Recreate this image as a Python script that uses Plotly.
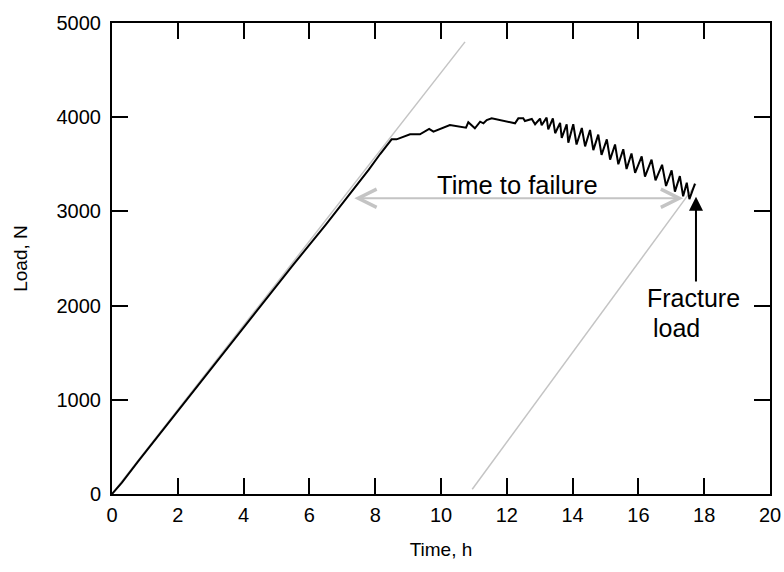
import plotly.graph_objects as go

# Measured load curve (time in h, load in N)
time_h = [0, 0.3, 0.8, 1.5, 2.5, 3.5, 4.5, 5.5, 6.5, 7.3, 7.8, 8.15, 8.40, 8.50, 8.65, 9.06, 9.36,
          9.64, 9.77, 10.27, 10.76, 10.83, 11.03, 11.19, 11.29, 11.39, 11.54, 12.25, 12.35,
          12.50, 12.55, 12.76, 12.86, 13.01, 13.06, 13.21, 13.26, 13.40, 13.47, 13.62, 13.67,
          13.82, 13.87, 14.02, 14.12, 14.28, 14.38, 14.53, 14.63, 14.78, 14.88, 15.04, 15.14,
          15.29, 15.39, 15.54, 15.64, 15.79, 15.90, 16.10, 16.20, 16.40, 16.52, 16.72, 16.84,
          17.01, 17.11, 17.26, 17.36, 17.47, 17.55, 17.72]
load_n = [0, 120, 350, 660, 1100, 1540, 1990, 2430, 2860, 3210, 3440, 3609, 3730, 3765, 3765, 3819, 3819,
          3875, 3846, 3917, 3889, 3946, 3882, 3952, 3935, 3970, 3988, 3935, 3988,
          3988, 3960, 3981, 3925, 3985, 3915, 3995, 3870, 3988, 3830, 3940, 3780,
          3925, 3730, 3925, 3710, 3885, 3690, 3865, 3650, 3815, 3600, 3765, 3550,
          3710, 3500, 3660, 3450, 3615, 3410, 3585, 3370, 3550, 3330, 3495, 3270,
          3435, 3210, 3375, 3160, 3305, 3130, 3295]

# Gray construction lines
slope_x = [0, 10.73]
slope_y = [0, 4800]
offset_x = [10.95, 17.75]
offset_y = [50, 3290]

# Annotation anchors
ttf_start, ttf_end, ttf_load = 7.32, 17.36, 3139
frac_x, frac_tip, frac_tail = 17.75, 3156, 2240

x_ticks = [0, 2, 4, 6, 8, 10, 12, 14, 16, 18, 20]
y_ticks = [0, 1000, 2000, 3000, 4000, 5000]

FONT = "Liberation Sans, Arial, sans-serif"
GRAY = "#c4c4c4"

fig = go.Figure()
fig.add_trace(go.Scatter(x=slope_x, y=slope_y, mode="lines",
                         line=dict(color=GRAY, width=1.5), showlegend=False, hoverinfo="skip"))
fig.add_trace(go.Scatter(x=offset_x, y=offset_y, mode="lines",
                         line=dict(color=GRAY, width=1.5), showlegend=False, hoverinfo="skip"))
fig.add_trace(go.Scatter(x=time_h, y=load_n, mode="lines",
                         line=dict(color="black", width=2), showlegend=False))

# Time to failure double arrow
fig.add_annotation(x=ttf_end, y=ttf_load, ax=ttf_start, ay=ttf_load,
                   xref="x", yref="y", axref="x", ayref="y", text="",
                   showarrow=True, arrowside="end+start", arrowhead=5, startarrowhead=5,
                   arrowsize=1.8, startarrowsize=1.8, arrowwidth=2, arrowcolor=GRAY)
fig.add_annotation(x=12.31, y=3280, text="Time to failure", showarrow=False,
                   font=dict(family=FONT, size=25.5, color="black"))

# Fracture load arrow
fig.add_annotation(x=frac_x, y=frac_tip, ax=frac_x, ay=frac_tail,
                   xref="x", yref="y", axref="x", ayref="y", text="",
                   showarrow=True, arrowhead=2, arrowsize=1.4, arrowwidth=2, arrowcolor="black")
fig.add_annotation(x=17.66, y=2081, text="Fracture", showarrow=False,
                   font=dict(family=FONT, size=25, color="black"))
fig.add_annotation(x=17.17, y=1762, text="load", showarrow=False,
                   font=dict(family=FONT, size=25, color="black"))

axis_common = dict(showline=True, linecolor="black", linewidth=2, mirror="ticks",
                   ticks="inside", ticklen=16, tickwidth=2, tickcolor="black",
                   showgrid=False, zeroline=False, automargin=False,
                   tickfont=dict(family=FONT, size=20, color="black"))

fig.update_xaxes(range=[0, 20], tickvals=x_ticks, ticklabelstandoff=2,
                 title=dict(text="Time, h", font=dict(family=FONT, size=19, color="black"), standoff=18),
                 **axis_common)
fig.update_yaxes(range=[0, 5000], tickvals=y_ticks, ticklabelstandoff=5,
                 title=dict(text="Load, N", font=dict(family=FONT, size=19, color="black"), standoff=24),
                 **axis_common)

fig.update_layout(width=784, height=572, margin=dict(l=112, r=14, t=23, b=78),
                  paper_bgcolor="white", plot_bgcolor="white")

fig.write_html("out.html")
